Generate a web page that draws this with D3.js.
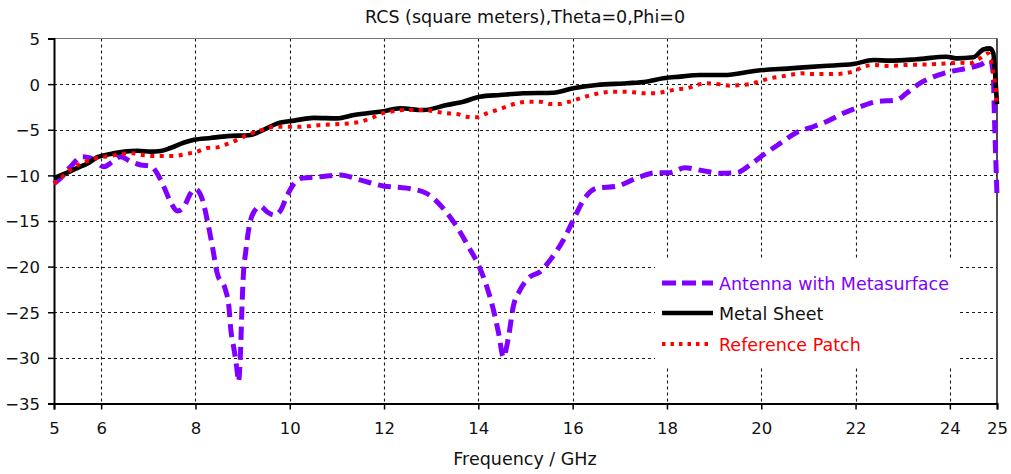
<!DOCTYPE html>
<html>
<head>
<meta charset="utf-8">
<script src="https://cdn.jsdelivr.net/npm/d3@7"></script>
<style>
  html, body { margin: 0; padding: 0; background: #fff; }
  svg { display: block; font-family: "DejaVu Sans", sans-serif; }
</style>
</head>
<body>
<svg id="chart" width="1011" height="474"></svg>
<script>
// RCS vs frequency for three structures (GHz, dB square meters)
const seriesNames = ["Antenna with Metasurface", "Metal Sheet", "Reference Patch"];

const antennaFreq = [5.0, 5.14, 5.35, 5.6, 5.78, 6.06, 6.24, 6.41, 6.63, 6.84, 7.05, 7.19, 7.33, 7.47, 7.62, 7.76, 7.9, 8.0, 8.15, 8.25, 8.36, 8.46, 8.64, 8.71, 8.75, 8.82, 8.89, 8.91, 8.96, 8.98, 9.01, 9.07, 9.14, 9.24, 9.38, 9.52, 9.67, 9.81, 9.95, 10.09, 10.27, 10.64, 11.07, 11.49, 11.98, 12.48, 12.9, 13.25, 13.54, 13.79, 14.0, 14.18, 14.32, 14.43, 14.53, 14.64, 14.74, 14.88, 15.1, 15.31, 15.52, 15.8, 16.05, 16.23, 16.51, 16.93, 17.36, 17.78, 18.06, 18.38, 18.77, 19.13, 19.48, 19.76, 20.04, 20.4, 20.75, 21.1, 21.39, 21.74, 22.1, 22.45, 22.87, 23.08, 23.37, 23.65, 24.0, 24.36, 24.64, 24.85, 24.92, 24.94, 24.96, 24.985, 25.0];
const antennaRCS = [-10.9, -10.3, -9.05, -7.95, -8.1, -9.05, -8.5, -7.95, -8.5, -8.86, -8.97, -9.8, -11.24, -12.9, -13.9, -13.4, -11.97, -11.5, -12.7, -14.9, -17.8, -20.7, -22.6, -24.4, -26.9, -29.1, -31.7, -32.6, -28.8, -25.5, -21.5, -18.2, -15.6, -14.0, -13.4, -14.0, -14.35, -13.8, -12.15, -10.9, -10.3, -10.15, -9.96, -10.5, -11.16, -11.4, -11.97, -13.6, -15.6, -17.8, -19.8, -22.2, -24.75, -27.3, -29.9, -27.7, -24.4, -22.6, -21.1, -20.56, -19.3, -17.1, -14.5, -12.7, -11.4, -11.2, -10.3, -9.7, -9.7, -9.16, -9.5, -9.77, -9.7, -8.86, -7.77, -6.5, -5.3, -4.67, -4.1, -3.2, -2.47, -1.92, -1.74, -1.0, 0.1, 0.8, 1.36, 1.73, 2.1, 2.6, 1.2, -2.5, -6.1, -9.8, -12.3];

const metalFreq = [5.0, 5.28, 5.49, 5.71, 5.92, 6.2, 6.49, 6.77, 7.05, 7.26, 7.47, 7.76, 7.97, 8.32, 8.68, 9.17, 9.45, 9.74, 10.09, 10.51, 11.01, 11.36, 11.72, 11.96, 12.34, 12.83, 13.33, 13.68, 14.03, 14.46, 14.95, 15.59, 16.01, 16.51, 17.15, 17.56, 17.92, 18.28, 18.7, 19.2, 19.9, 20.61, 21.32, 21.95, 22.38, 22.73, 23.29, 23.93, 24.14, 24.5, 24.71, 24.85, 24.92, 24.96, 24.985, 25.0];
const metalRCS = [-10.3, -9.7, -9.2, -8.7, -8.0, -7.66, -7.4, -7.3, -7.4, -7.33, -7.0, -6.4, -6.1, -5.9, -5.7, -5.57, -5.0, -4.3, -4.0, -3.7, -3.75, -3.38, -3.13, -3.0, -2.65, -2.84, -2.29, -1.92, -1.38, -1.19, -1.0, -0.94, -0.46, -0.1, 0.1, 0.27, 0.64, 0.82, 1.0, 1.0, 1.47, 1.73, 1.99, 2.2, 2.64, 2.57, 2.72, 3.0, 2.82, 2.94, 3.8, 3.92, 3.4, 1.2, -1.0, -2.2];

const patchFreq = [5.0, 5.18, 5.35, 5.57, 5.78, 5.99, 6.2, 6.41, 6.66, 6.91, 7.12, 7.55, 7.79, 8.04, 8.25, 8.46, 8.68, 8.89, 9.1, 9.31, 9.52, 9.74, 10.23, 10.66, 11.08, 11.5, 11.75, 11.96, 12.16, 12.41, 12.87, 13.08, 13.33, 13.54, 13.75, 13.96, 14.18, 14.39, 14.6, 14.81, 15.06, 15.31, 15.52, 15.73, 15.94, 16.16, 16.4, 16.62, 16.86, 17.07, 17.29, 17.5, 17.75, 17.96, 18.21, 18.42, 18.63, 18.84, 19.09, 19.34, 19.55, 19.76, 19.98, 20.19, 20.4, 20.61, 20.86, 21.07, 21.53, 21.78, 21.99, 22.17, 22.41, 22.66, 23.08, 23.58, 24.0, 24.21, 24.42, 24.64, 24.81, 24.88, 24.92, 24.96, 24.99, 25.0];
const patchRCS = [-10.9, -10.15, -9.4, -8.7, -8.3, -8.0, -7.88, -7.66, -7.58, -7.8, -7.88, -7.88, -7.66, -7.4, -7.0, -6.93, -6.56, -6.1, -5.57, -5.2, -4.84, -4.66, -4.66, -4.48, -4.37, -4.12, -3.68, -3.2, -3.0, -2.84, -2.84, -3.0, -3.2, -3.27, -3.57, -3.64, -3.2, -2.84, -2.47, -2.1, -1.92, -1.92, -2.18, -2.18, -1.92, -1.55, -1.19, -0.94, -0.83, -0.83, -0.9, -1.0, -1.0, -0.83, -0.57, -0.46, -0.1, 0.1, 0.0, -0.17, -0.1, 0.0, 0.34, 0.64, 0.82, 1.0, 1.19, 1.1, 1.1, 1.19, 1.47, 1.9, 2.1, 2.0, 2.1, 2.17, 2.28, 2.35, 2.28, 2.83, 3.38, 2.46, 1.2, 0.1, -1.55, -2.5];

const xTicks = [5, 6, 8, 10, 12, 14, 16, 18, 20, 22, 24, 25];
const yTicks = [5, 0, -5, -10, -15, -20, -25, -30, -35];

const titleText = "RCS (square meters),Theta=0,Phi=0";
const xLabel = "Frequency / GHz";

// ---- layout ----
const plot = { left: 54, right: 997, top: 38.5, bottom: 403.5 };
const svg = d3.select("#chart");

const x = d3.scaleLinear().domain([5, 25]).range([plot.left, plot.right]);
const y = d3.scaleLinear().domain([-35, 5]).range([plot.bottom, plot.top]);

// grid
const grid = svg.append("g").attr("stroke", "#1a1a1a").attr("stroke-width", 1.1)
  .attr("stroke-dasharray", "3,3").attr("fill", "none");
grid.selectAll("line.v").data(xTicks.filter(t => t > 5 && t < 25)).join("line")
  .attr("class", "v")
  .attr("x1", d => Math.round(x(d)) + 0.5).attr("x2", d => Math.round(x(d)) + 0.5)
  .attr("y1", plot.top).attr("y2", plot.bottom);
grid.selectAll("line.h").data(yTicks.filter(t => t < 5 && t > -35)).join("line")
  .attr("class", "h")
  .attr("x1", plot.left).attr("x2", plot.right)
  .attr("y1", d => Math.round(y(d)) + 0.5).attr("y2", d => Math.round(y(d)) + 0.5);

// frame top / right
svg.append("line").attr("x1", plot.left).attr("x2", plot.right)
  .attr("y1", plot.top).attr("y2", plot.top).attr("stroke", "#777").attr("stroke-width", 1);
svg.append("line").attr("x1", plot.right).attr("x2", plot.right)
  .attr("y1", plot.top).attr("y2", plot.bottom).attr("stroke", "#000").attr("stroke-width", 1.4);

// legend backdrop (hides the grid behind it)
const legendBox = { x: 655, y: 260, w: 302, h: 106 };
svg.append("rect").attr("x", legendBox.x).attr("y", legendBox.y)
  .attr("width", legendBox.w).attr("height", legendBox.h).attr("fill", "#fff");

// axes
const xAxis = d3.axisBottom(x).tickValues(xTicks).tickFormat(d3.format("d"))
  .tickSize(6).tickPadding(13);
const yAxis = d3.axisLeft(y).tickValues(yTicks).tickFormat(d3.format("d"))
  .tickSize(6).tickPadding(8);

const gx = svg.append("g").attr("transform", `translate(0,${plot.bottom})`).call(xAxis);
const gy = svg.append("g").attr("transform", `translate(${plot.left},0)`).call(yAxis);
[gx, gy].forEach(g => {
  g.select(".domain").attr("stroke", "#000").attr("stroke-width", 2);
  g.selectAll(".tick line").attr("stroke", "#000").attr("stroke-width", 1.5);
  g.selectAll(".tick text").attr("fill", "#111").style("font-size", "16.5px")
    .style("font-family", "'DejaVu Sans', sans-serif");
});
gy.selectAll(".tick text").attr("dy", "0.36em");

// series
const styles = [
  { color: "#8000ff", width: 5, dash: "13,7" },
  { color: "#000000", width: 4.6, dash: null },
  { color: "#ff0000", width: 4, dash: "4,5.5" }
];
const seriesData = [
  d3.zip(antennaFreq, antennaRCS),
  d3.zip(metalFreq, metalRCS),
  d3.zip(patchFreq, patchRCS)
];

const line = d3.line().x(d => x(d[0])).y(d => y(d[1])).curve(d3.curveMonotoneX);

seriesData.forEach((data, i) => {
  svg.append("path").datum(data)
    .attr("d", line)
    .attr("fill", "none")
    .attr("stroke", styles[i].color)
    .attr("stroke-width", styles[i].width)
    .attr("stroke-dasharray", styles[i].dash)
    .attr("stroke-linejoin", "round");
});

// legend
const legendRows = [283, 313, 344];
seriesNames.forEach((name, i) => {
  const s = styles[i];
  svg.append("line")
    .attr("x1", 662).attr("x2", 713)
    .attr("y1", legendRows[i]).attr("y2", legendRows[i])
    .attr("stroke", s.color).attr("stroke-width", s.width)
    .attr("stroke-dasharray", i === 0 ? "14,6" : (i === 2 ? "3.5,5" : null));
  svg.append("text")
    .attr("x", 719).attr("y", legendRows[i] + 6.5)
    .attr("fill", i === 1 ? "#111" : s.color)
    .style("font-size", "17.5px")
    .text(name);
});

// titles
svg.append("text").attr("x", 525).attr("y", 22.5).attr("text-anchor", "middle")
  .attr("fill", "#111").style("font-size", "17.5px").text(titleText);
svg.append("text").attr("x", 525).attr("y", 465).attr("text-anchor", "middle")
  .attr("fill", "#111").style("font-size", "17.5px").text(xLabel);
</script>
</body>
</html>
